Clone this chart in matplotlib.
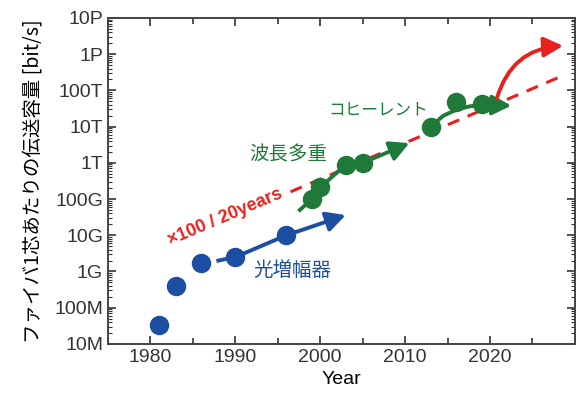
import numpy as np
import matplotlib.pyplot as plt
from matplotlib.ticker import FixedLocator, MultipleLocator, LogLocator, NullFormatter

plt.rcParams['font.family'] = ['Liberation Sans', 'Noto Sans CJK JP', 'DejaVu Sans']
JP = ['Noto Sans CJK JP', 'Liberation Sans']

BLUE = '#1c4ea1'
GREEN = '#1f7a3a'
RED = '#e8211d'

# 測定点 (年, bit/s)
amp_year = [1981, 1983, 1986, 1990, 1996]
amp_cap = [3.3e7, 4.0e8, 1.7e9, 2.5e9, 1.0e10]

wdm_year = [1999, 2000, 2003, 2005]
wdm_cap = [1.0e11, 2.1e11, 8.8e11, 1.0e12]

coh_year = [2013, 2016, 2019]
coh_cap = [1.0e13, 4.9e13, 4.2e13]

# トレンド線（矢印）
amp_line_year = [1988, 1990, 1996]
amp_line_cap = [2.0e9, 2.5e9, 1.0e10]
amp_arrow_end = (2003, 3.6e10)

wdm_line_year = [1997.6, 1999, 2000, 2003, 2005]
wdm_line_cap = [5.0e10, 1.0e11, 2.1e11, 8.8e11, 1.0e12]
wdm_arrow_end = (2010.5, 3.5e12)

coh_line_year = [2013, 2014.5, 2016, 2017.5, 2019]
coh_line_cap = [1.0e13, 2.0e13, 2.9e13, 3.6e13, 4.0e13]
coh_arrow_end = (2022.5, 3.8e13)

# ×100 / 20年 のトレンド
trend_year = np.array([1996.5, 2028.5])
trend_cap = 10 ** (11.55 + 0.1 * (trend_year - 2000))

future_start = (2020.8, 6.0e13)
future_end = (2028.6, 1.7e15)

ytick_vals = [1e7, 1e8, 1e9, 1e10, 1e11, 1e12, 1e13, 1e14, 1e15, 1e16]
ytick_labels = ['10M', '100M', '1G', '10G', '100G', '1T', '10T', '100T', '1P', '10P']
xtick_vals = [1980, 1990, 2000, 2010, 2020]

fig = plt.figure(figsize=(5.79, 3.99), dpi=100)
ax = fig.add_axes([0.1865, 0.138, 0.8065, 0.817])
ax.set_yscale('log')
ax.set_xlim(1975, 2030)
ax.set_ylim(1e7, 1e16)

# 赤破線
ax.plot(trend_year, trend_cap, '--', color=RED, lw=2.2, dashes=(4, 3), zorder=2)

# 線
ax.plot(amp_line_year, amp_line_cap, color=BLUE, lw=2.8, zorder=3)
ax.plot(wdm_line_year, wdm_line_cap, color=GREEN, lw=2.8, zorder=3)
ax.plot(coh_line_year, coh_line_cap, color=GREEN, lw=2.8, zorder=3)

arrow_kw = dict(arrowstyle='-|>,head_length=1.15,head_width=0.6', lw=2.8, shrinkA=0, shrinkB=0)
ax.annotate('', xy=amp_arrow_end, xytext=(amp_line_year[-1], amp_line_cap[-1]),
            arrowprops=dict(color=BLUE, **arrow_kw), zorder=3)
ax.annotate('', xy=wdm_arrow_end, xytext=(wdm_line_year[-1], wdm_line_cap[-1]),
            arrowprops=dict(color=GREEN, **arrow_kw), zorder=3)
ax.annotate('', xy=coh_arrow_end, xytext=(coh_line_year[-1], coh_line_cap[-1]),
            arrowprops=dict(color=GREEN, **arrow_kw), zorder=3)
ax.annotate('', xy=future_end, xytext=future_start,
            arrowprops=dict(color=RED, connectionstyle='arc3,rad=-0.35', **arrow_kw), zorder=3)

# 点
ax.plot(amp_year, amp_cap, 'o', color=BLUE, ms=13, zorder=4)
ax.plot(wdm_year, wdm_cap, 'o', color=GREEN, ms=13, zorder=4)
ax.plot(coh_year, coh_cap, 'o', color=GREEN, ms=13, zorder=4)

# ラベル
ax.text(1988.8, 10 ** 10.5, '×100 / 20years', color=RED, fontsize=13, fontweight='bold',
        rotation=23, ha='center', va='center', rotation_mode='anchor')
ax.text(1996.2, 10 ** 12.22, '波長多重', color=GREEN, fontsize=14, family=JP,
        ha='center', va='center')
ax.text(2006.8, 10 ** 13.46, 'コヒーレント', color=GREEN, fontsize=12, family=JP,
        ha='center', va='center')
ax.text(1996.7, 10 ** 9.04, '光増幅器', color=BLUE, fontsize=14, family=JP,
        ha='center', va='center')

# 軸
ax.set_xticks(xtick_vals)
ax.xaxis.set_minor_locator(MultipleLocator(5))
ax.yaxis.set_major_locator(FixedLocator(ytick_vals))
ax.set_yticklabels(ytick_labels)
ax.yaxis.set_minor_locator(LogLocator(base=10, subs=np.arange(2, 10), numticks=20))
ax.yaxis.set_minor_formatter(NullFormatter())
ax.tick_params(which='both', direction='in', top=True, right=True, labelsize=14, colors='#333333')
ax.tick_params(which='major', length=6, width=1.2)
ax.tick_params(which='minor', length=3, width=0.8)
ax.tick_params(axis='x', which='minor', length=4, width=1.2)
for s in ax.spines.values():
    s.set_color('#444444')
    s.set_linewidth(1.4)

ax.set_xlabel('Year', fontsize=14, labelpad=4)
ax.set_ylabel('ファイバ1芯あたりの伝送容量 [bit/s]', fontsize=14, family=JP, labelpad=8)

fig.savefig('out.png', dpi=100)
